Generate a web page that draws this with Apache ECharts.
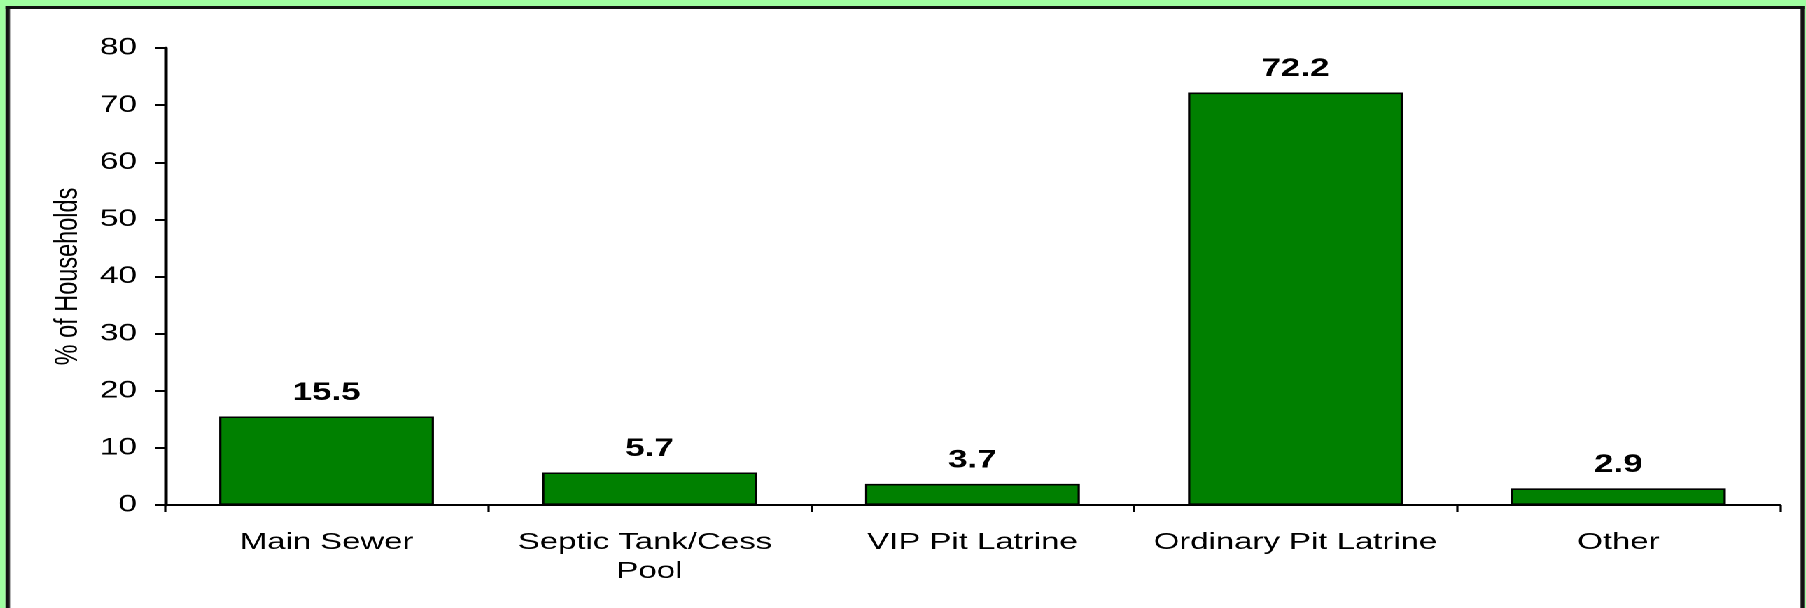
<!DOCTYPE html>
<html>
<head>
<meta charset="utf-8">
<title>Households by Toilet Facility</title>
<script src="https://cdn.jsdelivr.net/npm/echarts@6/dist/echarts.min.js"></script>
<style>
  html, body { margin: 0; padding: 0; width: 1806px; height: 608px; overflow: hidden; background: #a0ffa0; }
  /* the whole figure is drawn at 1290px wide and widened to the page */
  #stage { position: absolute; left: 0; top: 0; width: 1290px; height: 608px; transform: scaleX(1.4); transform-origin: 0 0; }
  #frame { position: absolute; left: 4.3px; top: 6px; width: 1285px; height: 640px; box-sizing: border-box;
           background: #fff; border-left: 3px solid #111; border-right: 3px solid #111; border-top: 3.5px solid #111; }
  #chart { position: absolute; left: 0; top: 0; width: 1290px; height: 608px; }
</style>
</head>
<body>
<div id="stage">
  <div id="frame"></div>
  <div id="chart"></div>
</div>
<script>
// Toilet facility used by households
const categories = ['Main Sewer', 'Septic Tank/Cess Pool', 'VIP Pit Latrine', 'Ordinary Pit Latrine', 'Other'];
const households = [15.5, 5.7, 3.7, 72.2, 2.9];
const yMin = 0;
const yMax = 80;
const yStep = 10;

const FONT = '"Liberation Sans", Arial, Helvetica, sans-serif';

const chart = echarts.init(document.getElementById('chart'), null, { renderer: 'canvas', devicePixelRatio: 2 });

chart.setOption({
  backgroundColor: 'transparent',
  animation: false,
  grid: { left: 117.9, right: 18.6, top: 48, bottom: 103, containLabel: false },
  xAxis: {
    type: 'category',
    data: categories,
    boundaryGap: true,
    axisLine: { show: true, lineStyle: { color: '#000', width: 2 } },
    axisTick: { show: true, alignWithLabel: false, length: 7, lineStyle: { color: '#000', width: 1.6 } },
    axisLabel: {
      interval: 0,
      color: '#000',
      fontFamily: FONT,
      fontSize: 23.5,
      lineHeight: 29,
      margin: 23,
      width: 220,
      overflow: 'break',
      align: 'center'
    },
    splitLine: { show: false }
  },
  yAxis: {
    type: 'value',
    min: yMin,
    max: yMax,
    interval: yStep,
    name: '% of Households',
    nameLocation: 'middle',
    nameRotate: 90,
    nameGap: 57,
    nameTextStyle: { color: '#000', fontFamily: FONT, fontSize: 23.5 },
    axisLine: { show: true, lineStyle: { color: '#000', width: 2.5 } },
    axisTick: { show: true, inside: false, length: 7, lineStyle: { color: '#000', width: 2 } },
    axisLabel: { color: '#000', fontFamily: FONT, fontSize: 24, margin: 20, align: 'right' },
    splitLine: { show: false }
  },
  series: [{
    type: 'bar',
    data: households,
    barWidth: '66.5%',
    itemStyle: { color: '#008000', borderColor: '#000', borderWidth: 1.6 },
    label: {
      show: true,
      position: 'top',
      distance: 11,
      color: '#000',
      fontFamily: FONT,
      fontSize: 25,
      fontWeight: 'bold',
      formatter: p => p.value.toFixed(1)
    }
  }]
});
</script>
</body>
</html>
